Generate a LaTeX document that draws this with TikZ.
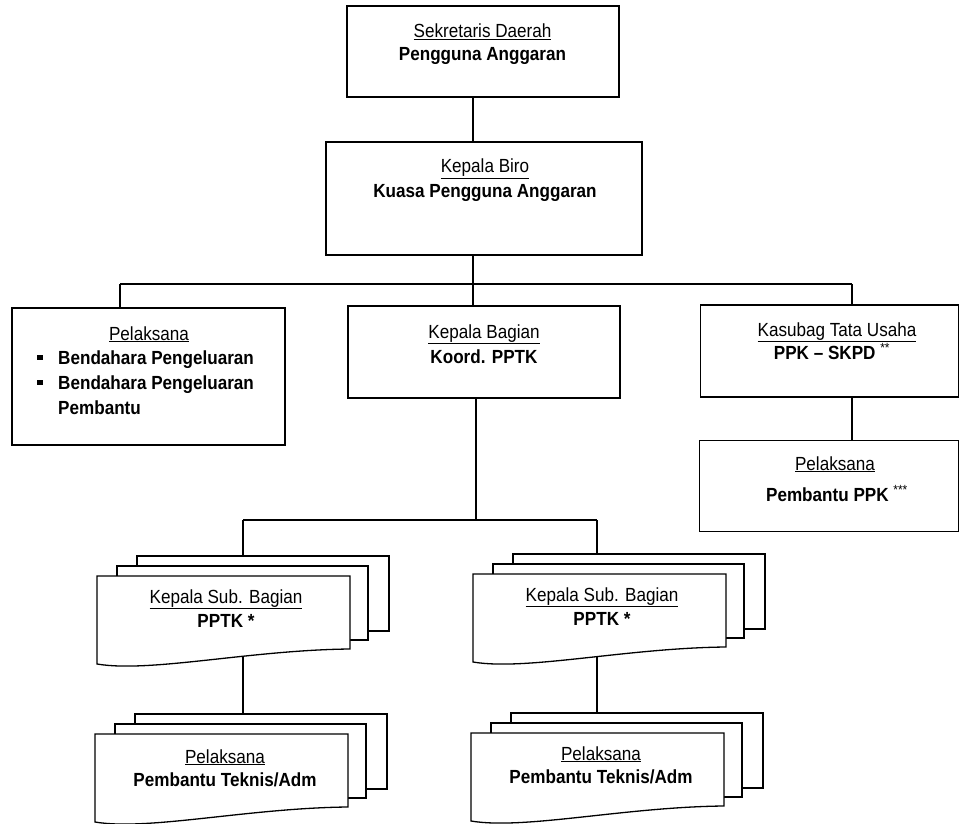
\documentclass[tikz,border=0pt]{standalone}
\usepackage{fontspec}
\setmainfont{Liberation Sans}[FakeStretch=0.9]
\usetikzlibrary{backgrounds}
\begin{document}
\begin{tikzpicture}[x=1pt,y=-1pt,
  orgbox/.style={draw=black, fill=white, rectangle, inner sep=0pt, line width=1.3pt},
  txt/.style={anchor=base, inner sep=0pt, font=\fontsize{19}{24}\selectfont},
  link/.style={draw=black, line width=1.3pt},
  docshape/.style={draw=black, fill=white, line width=1.3pt, line join=miter},
  docstack/.pic={
    \path[docshape] (40,-20) rectangle (292,55);
    \path[docshape] (20,-10) rectangle (271,64);
    \path[docshape] (0,0) -- (253,0) -- (253,73) .. controls (153,74) and (53,97) .. (0,88) -- cycle;
    \coordinate (-bk) at (40,-20);
    \coordinate (-fb) at (0,76);
  }
]
\useasboundingbox (0,0) rectangle (962,824);

% boxes
\node[orgbox, minimum width=272pt, minimum height=91pt] (sek) at (483,51.5) {};
\node[orgbox, minimum width=316pt, minimum height=113pt] (biro) at (484,198.5) {};
\node[orgbox, minimum width=273pt, minimum height=137pt] (pel) at (148.5,376.5) {};
\node[orgbox, minimum width=272pt, minimum height=92pt] (kabag) at (484,352) {};
\node[orgbox, minimum width=258pt, minimum height=92pt] (kasub) at (829.5,351) {};
\node[orgbox, minimum width=259pt, minimum height=91pt] (pelppk) at (829,486) {};

% document stacks
\pic (ul) at (97,576) {docstack};
\pic (ur) at (473,574) {docstack};
\pic (ll) at (95,734) {docstack};
\pic (lr) at (471,733) {docstack};

% texts
\node[txt] (t1a) at (482.5,38) {\underline{Sekretaris Daerah}};
\node[txt] (t1b) at (482.5,61) {\textbf{Pengguna Anggaran}};
\node[txt] (t2a) at (485,173) {\underline{Kepala Biro}};
\node[txt] (t2b) at (485,197) {\textbf{Kuasa Pengguna Anggaran}};
\node[txt] (t3a) at (149,340) {\underline{Pelaksana}};
\node[txt, anchor=base west] (t3b) at (37,364) {\rule[4pt]{5.5pt}{5.5pt}\hspace{15.5pt}\textbf{Bendahara Pengeluaran}};
\node[txt, anchor=base west] (t3c) at (37,389) {\rule[4pt]{5.5pt}{5.5pt}\hspace{15.5pt}\textbf{Bendahara Pengeluaran}};
\node[txt, anchor=base west] (t3d) at (58,414) {\textbf{Pembantu}};
\node[txt] (t4a) at (484,338) {\underline{Kepala Bagian}};
\node[txt] (t4b) at (484,363) {\textbf{Koord. PPTK}};
\node[txt] (t5a) at (837,336) {\underline{Kasubag Tata Usaha}};
\node[txt] (t5b) at (832,359) {\textbf{PPK -- SKPD} \textsuperscript{**}};
\node[txt] (t6a) at (835,470) {\underline{Pelaksana}};
\node[txt] (t6b) at (837,501) {\textbf{Pembantu PPK} \textsuperscript{***}};
\node[txt] (t7a) at (226,603) {\underline{Kepala Sub. Bagian}};
\node[txt] (t7b) at (226,627) {\textbf{PPTK *}};
\node[txt] (t8a) at (602,601) {\underline{Kepala Sub. Bagian}};
\node[txt] (t8b) at (602,625) {\textbf{PPTK *}};
\node[txt] (t9a) at (225,763) {\underline{Pelaksana}};
\node[txt] (t9b) at (225,786) {\textbf{Pembantu Teknis/Adm}};
\node[txt] (t10a) at (601,760) {\underline{Pelaksana}};
\node[txt] (t10b) at (601,783) {\textbf{Pembantu Teknis/Adm}};

% connectors (behind shapes)
\begin{pgfonlayer}{background}
\fill[white] (0,0) rectangle (962,824);
\coordinate (sp) at (473,270);
\coordinate (hl) at (473,284);
\coordinate (hlL) at (120,284);
\coordinate (hlR) at (852,284);
\coordinate (kb) at (476,520);
\coordinate (hdL) at (243,520);
\coordinate (hdR) at (597,520);
\draw[link] (sek.south -| sp) -- (biro.north -| sp);
\draw[link] (biro.south -| sp) -- (hl);
\draw[link] (hlL) -- (hlR);
\draw[link] (hlL) -- (hlL |- pel.north);
\draw[link] (hl) -- (hl |- kabag.north);
\draw[link] (hlR) -- (hlR |- kasub.north);
\draw[link] (kasub.south -| hlR) -- (pelppk.north -| hlR);
\draw[link] (kabag.south -| kb) -- (kb);
\draw[link] (hdL) -- (hdR);
\draw[link] (hdL) -- (hdL |- ul-bk);
\draw[link] (hdR) -- (hdR |- ur-bk);
\draw[link] (hdL |- ul-fb) -- (hdL |- ll-bk);
\draw[link] (hdR |- ur-fb) -- (hdR |- lr-bk);
\end{pgfonlayer}
\end{tikzpicture}
\end{document}
